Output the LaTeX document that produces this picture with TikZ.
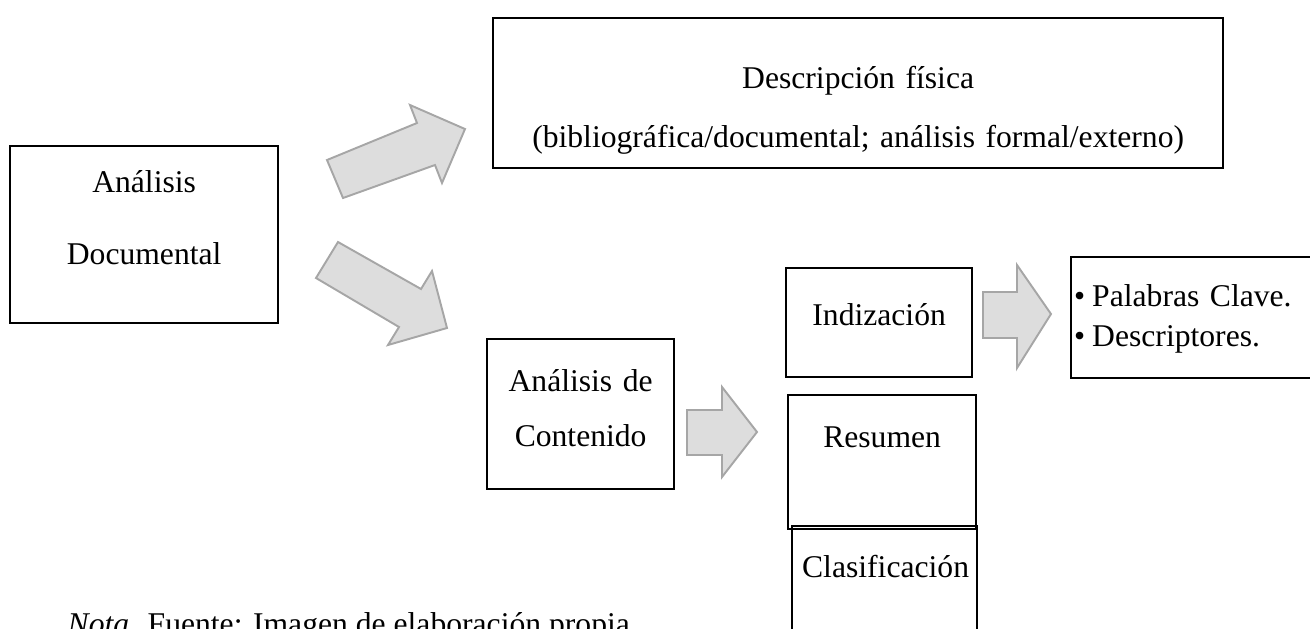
\documentclass[tikz,border=0pt]{standalone}
\usepackage{fontspec}
\setmainfont{Liberation Serif}
\definecolor{arrowfill}{HTML}{DDDDDD}
\definecolor{arrowline}{HTML}{A6A6A6}

\begin{document}
\begin{tikzpicture}[scale=1,
  every node/.style={font={\fontsize{9}{11.4}\selectfont}},
  box/.style={draw, line width=0.65pt, anchor=north west, inner xsep=0.1cm, inner ysep=0pt, align=center},
  blockarrow/.style={draw=arrowline, fill=arrowfill, line width=0.55pt}]
\useasboundingbox (0,0) rectangle (13.1,6.28);
\clip (0,0) rectangle (13.1,6.28);
\node [box, text width=2.48cm, text height=0.46cm, text depth=1.31cm] (analisis) at (0.09,4.83) {Análisis\\[9.1pt]Documental};
\node [box, text width=7.10cm, text height=0.70cm, text depth=0.80cm] (fisica) at (4.92,6.11) {Descripción física\\[5.4pt](bibliográfica/documental; análisis formal/externo)};
\node [box, text width=1.67cm, text height=0.52cm, text depth=0.98cm] (contenido) at (4.86,2.90) {Análisis de\\[4.3pt]Contenido};
\node [box, text width=1.66cm, text height=0.57cm, text depth=0.52cm] (indizacion) at (7.85,3.61) {Indización};
\node [box, text width=1.68cm, text height=0.52cm, text depth=0.82cm] (resumen) at (7.87,2.34) {Resumen};
\node [box, text width=1.65cm, text height=0.51cm, text depth=1.29cm] (clasificacion) at (7.91,1.03) {Clasificación};
\node [box, align=left, inner xsep=0.03cm, text width=2.44cm, text height=0.49cm, text depth=0.72cm] (claves) at (10.70,3.72) {\textbullet\hspace{2pt}Palabras Clave.\\\textbullet\hspace{2pt}Descriptores.};
\node [anchor=base west, inner sep=0pt] (nota) at (0.67,-0.06) {\textit{Nota.} Fuente: Imagen de elaboración propia.};
\draw [blockarrow] (3.27,4.68) -- (4.17,5.05) -- (4.10,5.23) -- (4.65,4.99) -- (4.42,4.45) -- (4.35,4.63) -- (3.43,4.30) -- cycle;
\draw [blockarrow] (3.38,3.86) -- (4.21,3.39) -- (4.32,3.57) -- (4.47,3.00) -- (3.88,2.83) -- (3.99,3.01) -- (3.16,3.50) -- cycle;
\draw [blockarrow] (6.87,2.18) -- (7.22,2.18) -- (7.22,2.41) -- (7.57,1.96) -- (7.22,1.51) -- (7.22,1.73) -- (6.87,1.73) -- cycle;
\draw [blockarrow] (9.83,3.36) -- (10.17,3.36) -- (10.17,3.63) -- (10.51,3.14) -- (10.17,2.60) -- (10.17,2.90) -- (9.83,2.90) -- cycle;
\end{tikzpicture}
\end{document}
